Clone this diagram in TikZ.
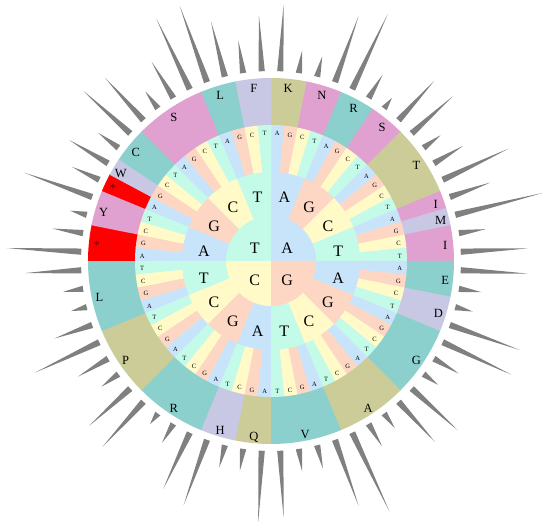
\documentclass[tikz,border=0pt]{standalone}
\usepackage{fontspec}
\setmainfont{Liberation Serif}
\definecolor{cb0}{RGB}{200,228,250}
\definecolor{cb1}{RGB}{253,214,196}
\definecolor{cb2}{RGB}{255,250,200}
\definecolor{cb3}{RGB}{196,250,232}
\definecolor{aaKh}{RGB}{204,204,153}
\definecolor{aaPk}{RGB}{224,160,208}
\definecolor{aaTl}{RGB}{140,208,206}
\definecolor{aaLv}{RGB}{200,200,228}
\definecolor{aaRd}{RGB}{255,0,0}
\definecolor{starc}{RGB}{110,0,0}
\definecolor{spikec}{RGB}{128,128,128}
\newcommand\baseletter[1]{\ifcase#1 A\or G\or C\or T\fi}
\begin{document}
\begin{tikzpicture}[x=1pt,y=1pt,
  bigl/.style={font=\fontsize{16}{16}\selectfont, inner sep=0pt},
  smalll/.style={font=\fontsize{6.5}{6.5}\selectfont, inner sep=0pt},
  aal/.style={font=\fontsize{12.5}{12.5}\selectfont, inner sep=0pt},
  spikeshape/.style={fill=spikec}]
\fill[white] (-271,-265) rectangle (279,261);
\useasboundingbox (-271,-265) rectangle (279,261);
% spikes
\foreach \i/\r in {0/256,1/213,2/211,3/260,4/273,5/217,6/203,7/243,8/245,9/211,10/224,11/263,12/233,13/280,14/217,15/257,
16/257,17/213,18/208,19/264,20/266,21/219,22/208,23/252,24/244,25/208,26/216,27/277,28/260,29/214,30/213,31/256,
32/261,33/212,34/213,35/259,36/252,37/212,38/203,39/251,40/245,41/211,42/225,43/261,44/230,45/206,46/210,47/246,
48/265,49/221,50/207,51/262,52/220,53/235,54/215,55/253,56/247,57/211,58/232,59/268,60/271,61/247,62/223,63/246}{
  \pgfmathsetmacro\am{90-(\i+0.5)*5.625}
  \pgfmathsetmacro\ab{\am-0.95}
  \pgfmathsetmacro\ac{\am+0.95}
  \fill[spikeshape] (\ab:190) -- (\am:\r) -- (\ac:190) -- cycle;
}
% outer amino acid ring
\foreach \s/\n/\aa/\col in {0/2/K/aaKh,2/2/N/aaPk,4/2/R/aaTl,6/2/S/aaPk,8/4/T/aaKh,12/1/I/aaPk,13/1/M/aaLv,14/2/I/aaPk,
16/2/E/aaTl,18/2/D/aaLv,20/4/G/aaTl,24/4/A/aaKh,28/4/V/aaTl,32/2/Q/aaKh,34/2/H/aaLv,36/4/R/aaTl,40/4/P/aaKh,44/4/L/aaTl,
48/2/{\textcolor{starc}{*}}/aaRd,50/2/Y/aaPk,52/1/{\textcolor{starc}{*}}/aaRd,53/1/W/aaLv,54/2/C/aaTl,56/4/S/aaPk,60/2/L/aaTl,62/2/F/aaLv}{
  \pgfmathsetmacro\aone{90-\s*5.625}
  \pgfmathsetmacro\atwo{90-(\s+\n)*5.625-0.2}
  \pgfmathsetmacro\amid{90-(\s+\n/2)*5.625}
  \pgfmathsetmacro\xx{175*cos(\amid)}
  \pgfmathsetmacro\yy{175*sin(\amid)-2}
  \fill[\col] (\aone:135) -- (\aone:183) arc[start angle=\aone, end angle=\atwo, radius=183] -- (\atwo:135) arc[start angle=\atwo, end angle=\aone, radius=135] -- cycle;
  \node[aal] (aa\s) at (\xx,\yy) {\aa};
}
% third base ring
\foreach \i in {0,...,63}{
  \pgfmathtruncatemacro\k{mod(\i,4)}
  \pgfmathsetmacro\aone{90-\i*5.625}
  \pgfmathsetmacro\atwo{90-(\i+1)*5.625-0.2}
  \pgfmathsetmacro\amid{90-(\i+0.5)*5.625}
  \pgfmathsetmacro\xx{129*cos(\amid)}
  \pgfmathsetmacro\yy{129*sin(\amid)-1.5}
  \fill[cb\k] (0,0) -- (\aone:136) arc[start angle=\aone, end angle=\atwo, radius=136] -- cycle;
  \node[smalll] (c\i) at (\xx,\yy) {\baseletter{\k}};
}
% second base ring
\foreach \j in {0,...,15}{
  \pgfmathtruncatemacro\k{mod(\j,4)}
  \pgfmathsetmacro\aone{90-\j*22.5}
  \pgfmathsetmacro\atwo{90-(\j+1)*22.5-0.2}
  \pgfmathsetmacro\amid{90-(\j+0.5)*22.5}
  \pgfmathsetmacro\xx{68.5*cos(\amid)}
  \pgfmathsetmacro\yy{68.5*sin(\amid)-3.5}
  \fill[cb\k] (0,0) -- (\aone:89) arc[start angle=\aone, end angle=\atwo, radius=89] -- cycle;
  \node[bigl] (b\j) at (\xx,\yy) {\baseletter{\k}};
}
% first base
\foreach \j in {0,...,3}{
  \pgfmathsetmacro\aone{90-\j*90}
  \pgfmathsetmacro\atwo{90-(\j+1)*90-0.2}
  \pgfmathsetmacro\amid{90-(\j+0.5)*90}
  \pgfmathsetmacro\xx{23*cos(\amid)}
  \pgfmathsetmacro\yy{23*sin(\amid)-3.5}
  \fill[cb\j] (0,0) -- (\aone:45) arc[start angle=\aone, end angle=\atwo, radius=45] -- cycle;
  \node[bigl] (a\j) at (\xx,\yy) {\baseletter{\j}};
}
\end{tikzpicture}
\end{document}
